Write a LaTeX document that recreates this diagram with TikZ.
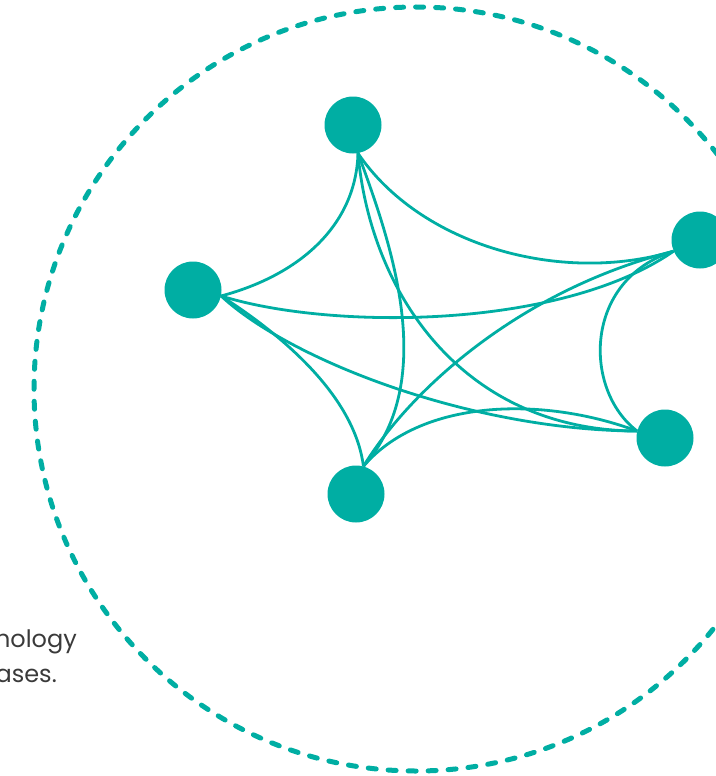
\documentclass[tikz,border=0pt]{standalone}
\usepackage{fontspec}
\setmainfont{Poppins}
\usepackage{tikz}
\definecolor{tealc}{RGB}{0,174,163}
\definecolor{inkc}{RGB}{58,58,58}
\newcommand{\notefont}{\fontsize{24}{36}\selectfont}
\tikzstyle{hub} = [circle, fill=tealc, minimum size=57pt, inner sep=0pt]
\tikzstyle{link} = [draw=tealc, line width=2.8pt]
\tikzstyle{ring} = [draw=tealc, line width=5pt, line cap=round,
dash pattern=on 8pt off 12pt]
\tikzstyle{note} = [text=inkc, font=\notefont, inner sep=0pt]

\begin{document}
\begin{tikzpicture}[x=1pt, y=-1pt]
\useasboundingbox (0,0) rectangle (715,776);

\draw[ring](416,389) circle (382);

\node(top)[hub] at (353,125){};
\node(left)[hub] at (193,290){};
\node(right)[hub] at (700,240){};
\node(lower)[hub] at (665,438){};
\node(bottom)[hub] at (356,494){};

\draw[link](top.-80) .. controls (356,225) and (300,275) .. (left.-12);
\draw[link](top.-80) .. controls (420,245) and (560,285) .. (right.-157);
\draw[link](top.-80) .. controls (390,240) and (440,380) .. (bottom.75);
\draw[link](top.-80) .. controls (370,290) and (460,430) .. (lower.166);
\draw[link](left.-12) .. controls (330,330) and (560,330) .. (right.-157);
\draw[link](left.-12) .. controls (290,360) and (470,430) .. (lower.166);
\draw[link](left.-12) .. controls (290,340) and (355,400) .. (bottom.75);
\draw[link](bottom.75) .. controls (410,390) and (520,290) .. (right.-157);
\draw[link](bottom.75) .. controls (420,400) and (540,395) .. (lower.166);
\draw[link](right.-157) .. controls (583,280) and (583,390) .. (lower.166);

\node(line1)[note, anchor=base east] at (77,647){nology};
\node(line2)[note, anchor=base east] at (57,682){ases.};

\end{tikzpicture}
\end{document}
